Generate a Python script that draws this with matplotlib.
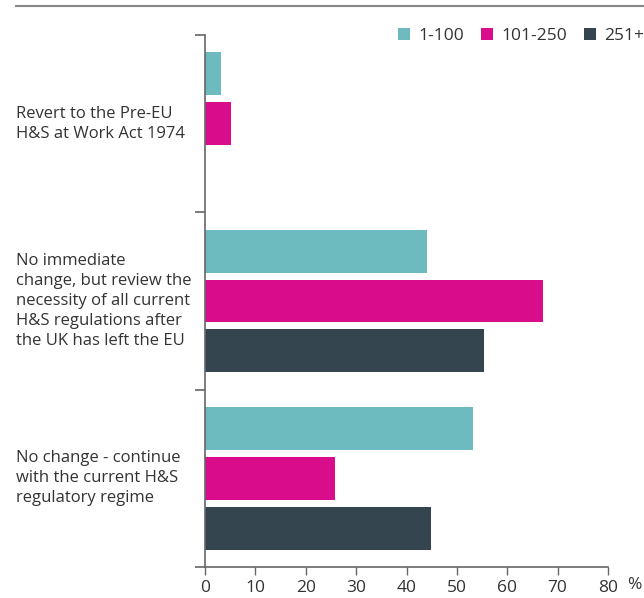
import numpy as np
import matplotlib
matplotlib.use("Agg")
from matplotlib import pyplot as plt
from matplotlib.patches import Patch
from matplotlib.lines import Line2D
from matplotlib.transforms import blended_transform_factory

plt.rcParams['font.family'] = ['Open Sans', 'DejaVu Sans']

categories = [
    "Revert to the Pre-EU\nH&S at Work Act 1974",
    "No immediate\nchange, but review the\nnecessity of all current\nH&S regulations after\nthe UK has left the EU",
    "No change - continue\nwith the current H&S\nregulatory regime",
]
series_names = ["1-100", "101-250", "251+"]
small = [3.2, 44.0, 53.2]
medium = [5.2, 67.0, 25.8]
large = [0.0, 55.4, 44.8]
colors = ["#6dbbbf", "#d90d8c", "#354550"]
xticks = [0, 10, 20, 30, 40, 50, 60, 70, 80]

text_col = "#333333"
axis_col = "#666666"

fig = plt.figure(figsize=(6.44, 5.98), dpi=100)
ax = fig.add_axes([205/644, 1 - 567/598, 403/644, 532/598])

y = np.arange(len(categories))
slot = 50/178
bar_h = 43/178
for i, (vals, c) in enumerate(zip([small, medium, large], colors)):
    ax.barh(y + (i - 1)*slot, vals, height=bar_h, color=c, label=series_names[i])

ax.set_xlim(0, 80)
ax.set_ylim(2.5, -0.5)
ax.set_xticks(xticks)
ax.set_xticklabels([str(t) for t in xticks], fontsize=12.5, color=text_col)
ax.set_yticks([-0.5, 0.5, 1.5, 2.5])
ax.set_yticklabels([])
ax.tick_params(axis='y', length=7, width=1.2, color=axis_col, direction='out')
ax.tick_params(axis='x', length=6, width=1, color=axis_col, direction='out', pad=3)
for s in ['top', 'right']:
    ax.spines[s].set_visible(False)
for s in ['left', 'bottom']:
    ax.spines[s].set_color(axis_col)
    ax.spines[s].set_linewidth(1.2)

label_tr = blended_transform_factory(fig.transFigure, ax.transData)
for yc, lab in zip(y, categories):
    ax.text(16/644, yc, lab, transform=label_tr, ha='left', va='center',
            fontsize=12, color=text_col, linespacing=1.32)

fig.text(634/644, 1 - 585/598, "%", ha='center', va='center', fontsize=12.5, color=text_col)

# top rule
fig.add_artist(Line2D([16/644, 1], [1 - 5.5/598, 1 - 5.5/598], transform=fig.transFigure,
                      color="#888888", lw=1.5))

handles = [Patch(facecolor=c, edgecolor='none') for c in colors]
fig.legend(handles, series_names, loc='center left', bbox_to_anchor=(398/644, 1 - 36/598),
           ncol=3, frameon=False, fontsize=12.5, handlelength=0.7, handleheight=0.7,
           handletextpad=0.45, columnspacing=1.0, labelcolor=text_col, borderpad=0,
           borderaxespad=0)

fig.savefig("out.png", dpi=100)
